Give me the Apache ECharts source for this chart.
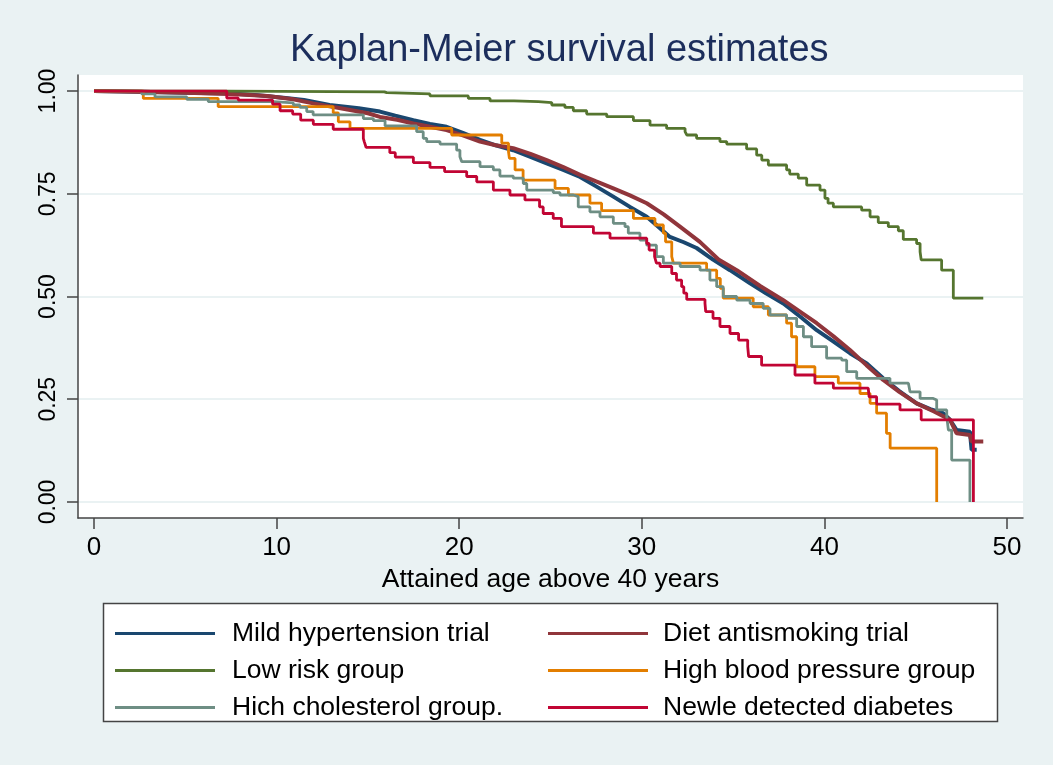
<!DOCTYPE html>
<html>
<head>
<meta charset="utf-8">
<title>Kaplan-Meier survival estimates</title>
<script src="https://cdn.jsdelivr.net/npm/echarts@6/dist/echarts.min.js"></script>
<style>
  html, body { margin: 0; padding: 0; background: #eaf2f3; }
  #chart { width: 1053px; height: 765px; }
</style>
</head>
<body>
<div id="chart"></div>
<script>
// group names, in legend order
var groupNames = [
  'Mild hypertension trial', 'Diet antismoking trial',
  'Low risk group', 'High blood pressure group',
  'Hich cholesterol group.', 'Newle detected diabetes'
]
var groupColors = ['#1a476f', '#90353b', '#55752f', '#e37e00', '#6e8e84', '#c10534']

// [attained age above 40, survival]
var mildHypertension = [[0,1],[2.5,0.998],[5,0.996],[7.5,0.994],[9,0.99],[10.5,0.983],[11.5,0.978],[12.9,0.966],[14.5,0.958],[15.66,0.95],[16.5,0.94],[17.49,0.929],[18.4,0.92],[19.31,0.913],[20.2,0.898],[21.14,0.881],[22,0.868],[22.96,0.856],[23.9,0.84],[24.79,0.824],[25.7,0.808],[26.62,0.791],[27.5,0.768],[28.44,0.743],[29.35,0.718],[30.27,0.694],[30.9,0.67],[31.54,0.645],[32.3,0.632],[33,0.618],[33.9,0.59],[34.83,0.564],[35.93,0.532],[36.8,0.508],[37.75,0.483],[38.7,0.45],[39.58,0.418],[40.5,0.39],[41.4,0.362],[42.32,0.337],[43.22,0.301],[44.1,0.27],[45.05,0.24],[45.8,0.226],[46.5,0.216],[46.88,0.2],[47.24,0.175],[47.97,0.171],[48.06,0.127],[48.34,0.127]]
var dietAntismoking = [[0,1],[2.5,0.998],[5,0.996],[7.5,0.993],[9.5,0.988],[10.9,0.98],[12,0.97],[13.5,0.958],[15,0.946],[15.66,0.937],[16.6,0.93],[17.49,0.921],[18.4,0.913],[19.31,0.905],[20.2,0.892],[21.14,0.877],[22,0.868],[22.96,0.861],[23.9,0.847],[24.79,0.832],[25.7,0.815],[26.62,0.796],[27.5,0.78],[28.44,0.763],[29.35,0.746],[30.27,0.727],[31.2,0.7],[32.09,0.67],[33.18,0.633],[34.2,0.59],[35.2,0.564],[36.5,0.525],[37.75,0.491],[38.7,0.462],[39.58,0.435],[40.5,0.403],[41.4,0.37],[42.3,0.333],[43.22,0.297],[44.1,0.268],[45.05,0.24],[46,0.22],[46.88,0.2],[47.24,0.167],[47.97,0.163],[48.06,0.147],[48.7,0.147]]
var lowRisk = [[0,1],[7.3,0.998],[15.9,0.996],[16.03,0.993],[18.4,0.988],[20.5,0.982],[21.69,0.976],[23,0.974],[24.33,0.972],[25.07,0.966],[25.79,0.96],[26.25,0.952],[26.98,0.944],[28.08,0.9375],[29.54,0.928],[30.45,0.917],[31.36,0.909],[32.37,0.901],[32.46,0.893],[33,0.885],[34.28,0.877],[34.65,0.871],[35.74,0.859],[36.29,0.844],[36.57,0.832],[36.93,0.82],[37.93,0.808],[38.1,0.798],[38.57,0.788],[39.03,0.771],[39.76,0.759],[40.03,0.739],[40.2,0.727],[40.49,0.718],[42.04,0.71],[42.5,0.694],[42.95,0.68],[43.5,0.67],[44.05,0.66],[44.32,0.639],[45.05,0.629],[45.24,0.609],[45.3,0.589],[46.42,0.564],[47.06,0.496],[48.7,0.496]]
var highBloodPressure = [[0,1],[2.7,0.982],[6.8,0.962],[13.1,0.947],[13.38,0.925],[14.02,0.909],[19.59,0.893],[22.33,0.873],[22.7,0.852],[22.75,0.836],[23.06,0.808],[23.5,0.783],[25.25,0.763],[25.98,0.747],[27.16,0.727],[27.8,0.709],[29.54,0.69],[30.72,0.674],[31.18,0.654],[31.3,0.633],[31.64,0.597],[31.73,0.581],[33.55,0.564],[34.1,0.544],[34.3,0.52],[34.46,0.496],[36.1,0.475],[36.93,0.455],[37.93,0.435],[38.2,0.402],[38.48,0.329],[39.48,0.305],[40.76,0.289],[41.95,0.264],[42.5,0.24],[42.86,0.216],[43.4,0.167],[43.6,0.131],[46.15,0]]
var highCholesterol = [[0,1],[2.61,0.993],[3.34,0.986],[5.08,0.98],[6.26,0.974],[9.82,0.971],[10.92,0.966],[11.28,0.96],[11.65,0.95],[12,0.942],[14.75,0.933],[15.3,0.928],[15.94,0.915],[17.67,0.901],[18.03,0.885],[18.22,0.877],[18.95,0.871],[19.86,0.856],[20.04,0.84],[20.14,0.828],[21.14,0.816],[21.87,0.808],[22.23,0.793],[22.96,0.788],[23.51,0.775],[23.7,0.759],[25.15,0.753],[25.52,0.747],[26.25,0.743],[26.52,0.718],[27.16,0.706],[27.71,0.694],[28.44,0.678],[29.08,0.67],[29.26,0.654],[29.9,0.637],[30.27,0.625],[30.8,0.597],[31.18,0.581],[32.1,0.573],[33.19,0.564],[33.73,0.54],[34.1,0.524],[34.46,0.5],[35.2,0.491],[35.93,0.483],[36.65,0.471],[37.02,0.455],[37.93,0.447],[38.48,0.427],[38.85,0.402],[39.3,0.378],[40.12,0.35],[40.95,0.345],[41.22,0.317],[41.77,0.301],[43.59,0.289],[44.6,0.285],[44.69,0.268],[45.24,0.252],[45.96,0.248],[46.15,0.224],[46.7,0.208],[46.79,0.175],[46.97,0.102],[47.97,0]]
var newDiabetes = [[0,1],[7.27,0.983],[7.9,0.978],[9.78,0.968],[10.19,0.952],[10.88,0.944],[11.32,0.929],[12.01,0.919],[13.1,0.907],[14.75,0.885],[14.8,0.877],[14.9,0.863],[16.2,0.85],[16.5,0.839],[17.49,0.826],[18.4,0.814],[19.2,0.804],[20.41,0.792],[20.96,0.779],[21.87,0.759],[22.78,0.747],[23.6,0.735],[24.4,0.718],[24.6,0.702],[25.15,0.69],[25.6,0.67],[27.35,0.654],[28.26,0.642],[30.27,0.629],[30.4,0.613],[30.7,0.597],[30.8,0.581],[31,0.573],[31.64,0.556],[31.9,0.54],[32.18,0.524],[32.3,0.508],[32.46,0.493],[33.46,0.483],[33.5,0.463],[33.9,0.447],[34.28,0.427],[34.83,0.41],[35.3,0.394],[35.8,0.378],[35.85,0.354],[36.56,0.333],[38.39,0.309],[39.48,0.289],[40.49,0.277],[42.4,0.273],[42.45,0.256],[42.86,0.238],[44.14,0.224],[45.3,0.2],[48.16,0]]

var xTicks = [0, 10, 20, 30, 40, 50]
var yTicks = [0, 0.25, 0.5, 0.75, 1]

var curves = [mildHypertension, dietAntismoking, lowRisk, highBloodPressure, highCholesterol, newDiabetes]
var stepped = [false, false, true, true, true, true]   // the two big trials look smooth

var font = 'Liberation Sans, Arial, sans-serif'

var chart = echarts.init(document.getElementById('chart'))

var series = curves.map(function (pts, i) {
  return {
    name: groupNames[i],
    type: 'line',
    data: pts,
    step: stepped[i] ? 'end' : false,
    showSymbol: false,
    symbol: 'none',
    color: groupColors[i],
    lineStyle: { color: groupColors[i], width: stepped[i] ? 2.8 : 4 },
    emphasis: { disabled: true },
    z: 2 + i
  }
})

var legendText = { fontFamily: font, fontSize: 26.5, color: '#000' }

var option = {
  animation: false,
  backgroundColor: '#eaf2f3',
  title: {
    text: 'Kaplan-Meier survival estimates',
    left: 290,
    top: 32,
    padding: 0,
    textStyle: { fontFamily: font, fontSize: 38, fontWeight: 'normal', color: '#1c2e5c' }
  },
  graphic: [{
    type: 'rect',
    z: 0,
    shape: { x: 103.5, y: 603.5, width: 894, height: 118 },
    style: { fill: '#fff', stroke: '#444', lineWidth: 1.5 }
  }],
  legend: [{
    data: [groupNames[0], groupNames[2], groupNames[4]],
    orient: 'vertical',
    left: 115,
    top: 620,
    padding: 0,
    itemGap: 10,
    itemWidth: 100,
    itemHeight: 3,
    icon: 'rect',
    selectedMode: false,
    textStyle: Object.assign({ padding: [0, 0, 0, 12] }, legendText)
  }, {
    data: [groupNames[1], groupNames[3], groupNames[5]],
    orient: 'vertical',
    left: 548,
    top: 620,
    padding: 0,
    itemGap: 10,
    itemWidth: 100,
    itemHeight: 3,
    icon: 'rect',
    selectedMode: false,
    textStyle: Object.assign({ padding: [0, 0, 0, 10] }, legendText)
  }],
  grid: {
    left: 78,
    right: 30,
    top: 75,
    bottom: 247,
    show: true,
    backgroundColor: '#fff',
    borderWidth: 0,
    outerBoundsMode: 'none'
  },
  xAxis: {
    type: 'value',
    min: -0.876,
    max: 50.876,
    name: 'Attained age above 40 years',
    nameLocation: 'middle',
    nameGap: 44,
    nameTextStyle: { fontFamily: font, fontSize: 26.5, color: '#000' },
    axisLine: { show: true, onZero: false, lineStyle: { color: '#444', width: 1.5 } },
    axisTick: { show: true, length: 11, customValues: xTicks, lineStyle: { color: '#444', width: 1.5 } },
    axisLabel: { customValues: xTicks, margin: 17, fontFamily: font, fontSize: 26, color: '#000' },
    splitLine: { show: false }
  },
  yAxis: {
    type: 'value',
    min: -0.039,
    max: 1.039,
    axisLine: { show: true, onZero: false, lineStyle: { color: '#444', width: 1.5 } },
    axisTick: { show: true, length: 11, customValues: yTicks, lineStyle: { color: '#444', width: 1.5 } },
    axisLabel: {
      customValues: yTicks,
      rotate: 90,
      margin: 18,
      fontFamily: font,
      fontSize: 23,
      color: '#000',
      formatter: function (v) { return v.toFixed(2) }
    },
    splitLine: { show: true, lineStyle: { color: '#eaf2f3', width: 2 } }
  },
  series: series
}

chart.setOption(option)
</script>
</body>
</html>
